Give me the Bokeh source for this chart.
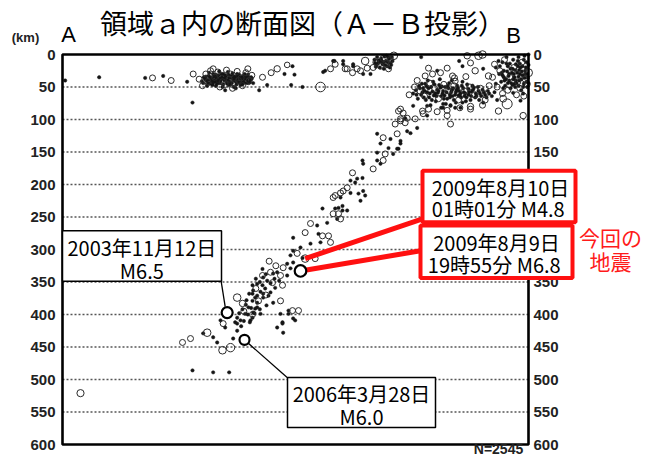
from bokeh.plotting import figure
from bokeh.models import Range1d, ColumnDataSource
from bokeh.core.properties import value
from bokeh.embed import file_html
from bokeh.resources import INLINE

# ---------------- data (distance along A-B [km], depth [km]) ----------------
depth_ticks = list(range(0, 601, 50))
profile_length = 699  # km, A (0) to B

# small events (filled dots)
dots_shallow_west = [(4, 40), (55, 35), (124, 36), (151, 33), (187, 42), (195, 74),
                     (212, 35), (216, 40), (219, 33), (221, 45), (224, 38), (226, 30), (229, 42),
                     (231, 36), (234, 32), (236, 44), (238, 38), (241, 30), (243, 40), (245, 35),
                     (247, 45), (249, 31), (251, 42), (253, 36), (255, 29), (257, 40), (259, 34),
                     (261, 46), (263, 38), (265, 31), (267, 43), (269, 35), (271, 40), (273, 30),
                     (276, 44), (279, 35), (282, 39), (230, 48), (240, 50), (250, 47), (260, 52),
                     (270, 46), (220, 28), (235, 26), (248, 27), (262, 30), (274, 37), (227, 34),
                     (239, 35), (252, 33), (266, 36), (244, 55), (257, 50), (217, 48), (209, 41),
                     (286, 44), (214, 38), (218, 44), (223, 41), (228, 39), (232, 45), (237, 41),
                     (242, 37), (246, 42), (250, 36), (254, 44), (258, 38), (264, 43), (268, 39),
                     (272, 43), (277, 40), (281, 43), (225, 47), (233, 40), (245, 39), (256, 33),
                     (264, 35), (271, 33), (278, 31), (238, 30), (230, 31), (222, 35), (284, 37),
                     (211, 44), (215, 34), (219, 39), (226, 43), (232, 33), (236, 37), (241, 46),
                     (244, 32), (248, 40), (252, 45), (256, 37), (260, 42), (263, 34), (267, 47),
                     (270, 37), (275, 34), (279, 44), (283, 35),
                     (360, 50), (343, 47), (307, 47), (295, 55), (333, 30), (345, 18),
                     (348, 31), (391, 27), (408, 10), (421, 15), (436, 18), (394, 25), (406, 10),
                     (421, 10), (436, 15), (462, 30), (451, 30)]
dots_shallow_east = [(468, 8), (472, 4), (475, 12), (478, 6), (480, 15), (483, 3), (485, 10),
                     (487, 18), (490, 7), (492, 13), (494, 4), (471, 16), (476, 20), (482, 22),
                     (488, 12), (491, 20), (474, 9), (486, 2), (479, 10), (495, 10), (469, 13),
                     (484, 16), (473, 14), (477, 9), (481, 12), (489, 4), (493, 16), (470, 19),
                     (538, 4), (562, 25), (600, 18), (631, 22), (595, 10),
                     (650, 20), (655, 30), (660, 12), (662, 25), (665, 38), (668, 18), (670, 30),
                     (673, 44), (675, 22), (678, 35), (680, 15), (682, 28), (685, 40), (687, 20),
                     (690, 32), (692, 45), (694, 25), (696, 12), (698, 36), (658, 42), (672, 52),
                     (688, 55), (664, 48), (676, 8), (684, 4), (693, 2), (699, 0), (654, 10),
                     (666, 4), (679, 50), (691, 60), (697, 50), (650, 45), (683, 18), (670, 40),
                     (686, 30), (662, 35), (695, 20), (674, 28), (678, 45), (687, 71), (676, 59),
                     (631, 74), (667, 26), (671, 14), (679, 24), (684, 34), (689, 26), (693, 36),
                     (697, 30), (681, 44), (676, 38), (668, 44), (660, 32), (686, 14), (691, 50),
                     (656, 18), (659, 28), (663, 40), (666, 14), (669, 33), (672, 22), (675, 47),
                     (677, 30), (680, 40), (683, 10), (685, 24), (688, 38), (690, 18), (694, 30),
                     (696, 42), (699, 16), (699, 44), (661, 52), (684, 48), (692, 8)]
dots_mid = [(530, 55), (535, 48), (538, 62), (541, 52), (544, 45), (547, 58), (550, 66), (553, 50),
            (556, 42), (559, 60), (562, 54), (565, 47), (568, 64), (571, 56), (574, 50), (577, 68),
            (580, 44), (583, 58), (586, 52), (589, 62), (592, 48), (595, 56), (598, 66), (601, 52),
            (604, 60), (607, 46), (610, 58), (613, 64), (616, 54), (620, 60), (624, 56), (628, 64),
            (632, 58), (636, 66), (640, 60), (545, 70), (560, 72), (575, 76), (590, 74), (605, 72),
            (533, 68), (548, 40), (566, 38), (584, 40), (600, 42), (615, 48), (526, 60), (540, 58),
            (555, 57), (570, 60), (585, 64), (597, 60), (612, 70), (625, 70), (552, 78), (568, 82),
            (582, 78), (526, 79), (547, 94), (571, 76), (589, 82), (600, 74), (582, 79), (597, 82),
            (571, 82), (547, 79), (543, 56), (557, 63), (563, 59), (573, 63), (579, 52), (591, 55),
            (603, 64), (609, 53), (619, 66), (623, 50), (549, 52), (567, 51), (581, 66), (594, 63),
            (531, 62), (536, 52), (539, 45), (542, 66), (546, 49), (551, 60), (554, 70), (558, 46),
            (561, 64), (564, 56), (569, 49), (572, 68), (576, 58), (578, 48), (581, 62), (584, 55),
            (587, 70), (590, 58), (593, 52), (596, 64), (599, 48), (602, 58), (606, 66), (609, 62),
            (614, 57), (617, 51), (621, 64), (626, 60), (630, 54), (634, 62), (638, 56), (644, 64),
            (648, 58), (652, 70)]
dots_slab = [(514, 98), (517, 118), (532, 113), (507, 133), (502, 145), (492, 130), (472, 122),
             (477, 137), (489, 144), (522, 121), (472, 151), (496, 153), (504, 145), (507, 137),
             (477, 168), (450, 163), (451, 168), (472, 163), (432, 194), (439, 197), (442, 191),
             (450, 190), (451, 210), (417, 220), (432, 213), (444, 214), (454, 217), (447, 225),
             (409, 237), (420, 240), (412, 253), (390, 237), (414, 236), (427, 240), (420, 233),
             (382, 263), (397, 259), (384, 276), (387, 289), (346, 282), (357, 297), (372, 291),
             (346, 302), (360, 313), (342, 309), (346, 320), (337, 322), (342, 329), (322, 335),
             (316, 337), (337, 340), (301, 343), (307, 348), (292, 353), (300, 355), (319, 359),
             (286, 363), (289, 374), (285, 379), (301, 374), (309, 371), (316, 382), (292, 389),
             (286, 397), (285, 405), (339, 394), (346, 406), (330, 412), (322, 420), (331, 428),
             (300, 330), (305, 338), (318, 345), (296, 350), (290, 345), (312, 352), (325, 348),
             (304, 360), (297, 365), (285, 355), (280, 368), (292, 382), (276, 378), (283, 390),
             (270, 392), (278, 400), (265, 398), (272, 410), (268, 418), (262, 405), (288, 398),
             (296, 392), (306, 386), (275, 385), (259, 412), (281, 412), (285, 368), (292, 371),
             (301, 368), (312, 366), (279, 389), (289, 391), (274, 399), (267, 409), (262, 414),
             (282, 409), (297, 399), (327, 399), (339, 399), (349, 409), (330, 414), (237, 409),
             (244, 420), (211, 429), (226, 435), (232, 443), (256, 437), (262, 425),
             (195, 486), (226, 489), (250, 489)]

# larger events (open circles): distance, depth, magnitude
circles = [(135, 36, 4.0), (163, 40, 4.0), (196, 30, 4.0),
           (210, 48, 4.0), (215, 30, 4.0), (222, 25, 4.0), (228, 35, 4.0), (233, 27, 4.0),
           (240, 42, 4.0), (246, 24, 4.0), (252, 30, 4.0), (258, 45, 4.0), (262, 26, 4.0),
           (268, 36, 4.0), (275, 28, 4.0), (280, 40, 4.0), (284, 32, 4.0), (218, 42, 4.0),
           (236, 50, 4.0), (255, 52, 4.0), (270, 48, 4.0), (278, 22, 4.0), (205, 38, 4.0),
           (226, 22, 4.0), (244, 46, 4.0), (264, 40, 4.0), (250, 38, 4.0),
           (300, 35, 4.0), (313, 28, 4.0), (322, 22, 4.2), (337, 16, 3.8), (387, 50, 5.8),
           (402, 22, 4.0), (424, 22, 4.0), (409, 15, 4.0), (427, 22, 4.0), (442, 22, 4.0),
           (447, 25, 4.0), (454, 10, 4.8), (457, 21, 4.0), (435, 28, 4.0),
           (470, 12, 4.0), (477, 18, 4.0), (485, 14, 4.0), (492, 8, 4.0), (497, 2, 4.8),
           (466, 20, 4.0), (481, 6, 4.0), (489, 22, 4.0),
           (549, 21, 4.0), (555, 30, 4.0), (567, 28, 4.0), (577, 21, 4.0), (544, 33, 4.0),
           (585, 33, 4.0), (607, 2, 4.2), (624, 2, 4.8), (612, 13, 4.0), (619, 25, 4.2),
           (639, 33, 4.2), (589, 41, 4.0), (630, 0, 4.8),
           (528, 50, 4.0), (536, 56, 4.0), (543, 64, 4.0), (551, 44, 4.0), (558, 52, 4.0),
           (564, 68, 4.0), (572, 46, 4.0), (579, 56, 4.0), (587, 48, 4.0), (594, 70, 4.0),
           (603, 56, 4.0), (611, 50, 4.0), (618, 62, 4.0), (627, 52, 4.0), (634, 70, 4.0),
           (640, 48, 4.0), (549, 84, 4.0), (562, 88, 4.0), (577, 86, 4.0), (596, 82, 4.0),
           (612, 80, 4.2), (630, 78, 4.0), (520, 62, 4.0), (532, 40, 4.0), (588, 36, 4.0),
           (605, 34, 4.0), (661, 68, 4.4), (654, 87, 4.2), (634, 61, 4.2),
           (648, 15, 4.0), (656, 25, 4.0), (663, 8, 4.0), (671, 35, 4.0), (677, 20, 4.0),
           (683, 42, 4.0), (689, 12, 4.0), (694, 38, 4.0), (699, 28, 5.0), (668, 55, 4.0),
           (681, 62, 4.0), (692, 64, 4.0), (652, 50, 4.0), (660, 60, 4.0), (645, 35, 4.0),
           (697, 46, 4.0), (686, 52, 4.0), (667, 76, 6.0), (691, 94, 4.2),
           (504, 87, 4.0), (514, 105, 4.0), (511, 90, 4.0), (507, 99, 4.0), (517, 98, 4.0),
           (540, 87, 4.0), (577, 94, 4.0), (612, 84, 4.0), (507, 84, 4.0), (541, 91, 4.0),
           (582, 107, 4.0), (499, 107, 4.0), (507, 102, 4.0), (529, 99, 4.0), (502, 122, 4.0),
           (481, 128, 4.0), (484, 153, 4.0), (481, 163, 4.0), (466, 176, 4.0), (435, 182, 4.0),
           (427, 205, 4.0), (421, 210, 4.0), (417, 213, 4.0), (409, 217, 4.0), (406, 220, 4.0),
           (414, 245, 4.0), (406, 245, 4.0), (417, 253, 4.0), (372, 260, 4.0), (364, 274, 4.0),
           (390, 279, 4.0), (399, 279, 4.0), (402, 289, 4.0), (352, 306, 4.0), (379, 314, 4.0),
           (331, 328, 4.0), (312, 335, 4.0), (327, 340, 4.0), (315, 351, 4.0), (330, 355, 4.0),
           (294, 379, 4.0), (327, 379, 4.0), (345, 394, 4.0), (354, 394, 4.0),
           (310, 318, 4.0), (320, 325, 4.0), (300, 340, 4.0), (290, 360, 4.0), (305, 370, 4.0),
           (272, 395, 4.0), (285, 400, 4.0), (262, 374, 4.8), (270, 383, 4.2), (241, 414, 4.0),
           (217, 428, 4.8), (240, 455, 4.8), (192, 437, 4.0), (180, 443, 4.0), (252, 451, 5.2),
           (364, 314, 4.8), (27, 521, 4.6)]

# highlighted events
ev_dist = [247, 273, 357]
ev_depth = [397, 439, 333]
ev_mag = [6.5, 6.0, 6.8]

# callout texts
callout_2003 = ["2003年11月12日", "M6.5"]
callout_2006 = ["2006年3月28日", "M6.0"]
callout_0810 = ["2009年8月10日", "01時01分  M4.8"]
callout_0809 = ["2009年8月9日", "19時55分  M6.8"]
current_eq = ["今回の", "地震"]
title_text = "領域ａ内の断面図（Ａ－Ｂ投影）"
count_text = "N=2545"

# -------------------------------------------------------------------------------
# The plotting frame fills the whole canvas; the cross-section box is drawn from data.
W, H = 648, 459
KX = 1.5            # km per pixel horizontally
KY = 600 / 390      # km per pixel vertically
X0 = -62 * KX
Y0 = -54 * KY
p = figure(width=W, height=H, output_backend="svg", toolbar_location=None,
           x_range=Range1d(X0, X0 + W * KX), y_range=Range1d(Y0 + H * KY, Y0),
           min_border=0)
p.xaxis.visible = False
p.yaxis.visible = False
p.xgrid.visible = False
p.ygrid.visible = False
p.outline_line_color = None
p.background_fill_color = "white"
p.border_fill_color = "white"

JP = value("Noto Sans CJK JP")
SANS = value("Liberation Sans")

# dotted depth grid lines
gl = [d for d in depth_ticks if 0 < d < 600]
p.segment(x0=[0] * len(gl), x1=[profile_length] * len(gl), y0=gl, y1=gl,
          line_color="#555555", line_width=1.3, line_dash="2 2")

# depth labels on both sides
p.text(x=[-7 * KX] * len(depth_ticks), y=depth_ticks, text=[str(t) for t in depth_ticks],
       text_align="right", text_baseline="middle", text_font=SANS, text_font_style="bold",
       text_font_size="15px", text_color="#222222")
p.text(x=[profile_length + 5 * KX] * len(depth_ticks), y=depth_ticks,
       text=[str(t) for t in depth_ticks],
       text_align="left", text_baseline="middle", text_font=SANS, text_font_style="bold",
       text_font_size="15px", text_color="#222222")

# events
all_dots = dots_shallow_west + dots_shallow_east + dots_mid + dots_slab
p.scatter([d[0] for d in all_dots], [d[1] for d in all_dots], size=3.4,
          fill_color="#151515", line_color="#151515", line_width=0.5)
src = ColumnDataSource(dict(x=[c[0] for c in circles], y=[c[1] for c in circles],
                            s=[2.0 * (c[2] - 1.0) for c in circles]))
p.scatter("x", "y", size="s", source=src, fill_color=None, line_color="#2a2a2a", line_width=1.0)

# frame of the cross-section
p.quad(left=[0], right=[profile_length], top=[0], bottom=[600],
       fill_color=None, line_color="black", line_width=2.6)

# callout leaders
p.segment(x0=[238, 273], y0=[349, 439], x1=[244, 337], y1=[388, 497],
          line_color="black", line_width=1.3)
# red leaders to the current earthquakes
p.segment(x0=[364, 357], y0=[314, 333], x1=[540, 537], y1=[253, 302],
          line_color="#ff1010", line_width=5)

p.scatter(ev_dist, ev_depth, size=[2.0 * (m - 1.0) for m in ev_mag],
          fill_color="white", line_color="black", line_width=2.2)

# callout boxes
p.quad(left=[0, 337.5], right=[238.5, 559.5], top=[271, 497], bottom=[349, 574],
       fill_color="white", line_color="black", line_width=1.5)
p.quad(left=[540, 537], right=[769.5, 765], top=[179, 263], bottom=[258, 344],
       fill_color="white", line_color="#ff1010", line_width=4)

p.text(x=[119, 119, 448.5, 448.5, 657, 657, 651, 651],
       y=[297, 332, 521, 557, 205, 237, 289, 323],
       text=callout_2003 + callout_2006 + callout_0810 + callout_0809,
       text_align="center", text_baseline="middle", text_font=JP, text_font_size="20px",
       text_color="black")

p.text(x=[822, 822], y=[280, 318], text=current_eq, text_align="center", text_baseline="middle",
       text_font=JP, text_font_size="21px", text_color="#ff1a1a")
p.text(x=[360], y=[-49], text=[title_text], text_align="center", text_baseline="middle",
       text_font=JP, text_font_size="27px", text_color="black")
p.text(x=[-55.5], y=[-26], text=["(km)"], text_align="center", text_baseline="middle",
       text_font=SANS, text_font_style="bold", text_font_size="13px", text_color="#222222")
p.text(x=[9, 676.5], y=[-31, -29], text=["A", "B"], text_align="center", text_baseline="middle",
       text_font=SANS, text_font_size="22px", text_color="black")
p.text(x=[654], y=[607], text=[count_text], text_align="center", text_baseline="middle",
       text_font=SANS, text_font_style="bold", text_font_size="14px", text_color="#222222")

open("out.html", "w").write(file_html(p, INLINE))
